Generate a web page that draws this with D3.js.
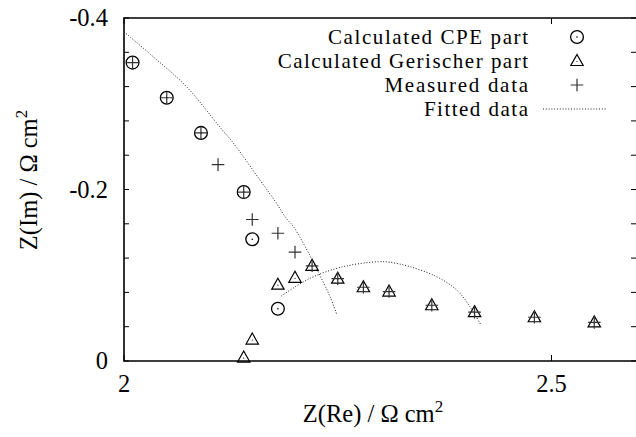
<!DOCTYPE html>
<html>
<head>
<meta charset="utf-8">
<script src="https://cdn.jsdelivr.net/npm/d3@7/dist/d3.min.js"></script>
<style>
  html, body { margin: 0; padding: 0; background: #fff; }
  svg { display: block; }
  text { font-family: "Liberation Serif", "Times New Roman", serif; fill: #000; }
</style>
</head>
<body>
<svg id="chart" width="636" height="437"></svg>
<script>
// Real part of impedance (Ohm cm^2)
const measuredRe = [2.01, 2.05, 2.09, 2.11, 2.14, 2.15, 2.18, 2.20, 2.22, 2.25, 2.28, 2.31, 2.36, 2.41, 2.48, 2.55];
// Imaginary part of measured impedance
const measuredIm = [-0.348, -0.307, -0.266, -0.229, -0.197, -0.165, -0.149, -0.127, -0.111, -0.096, -0.086, -0.081, -0.065, -0.057, -0.051, -0.045];

// CPE contribution
const cpeRe = [2.01, 2.05, 2.09, 2.14, 2.15, 2.18];
const cpeIm = [-0.348, -0.307, -0.266, -0.197, -0.142, -0.061];

// Gerischer contribution
const gerRe = [2.14, 2.15, 2.18, 2.20, 2.22, 2.25, 2.28, 2.31, 2.36, 2.41, 2.48, 2.55];
const gerIm = [-0.004, -0.025, -0.089, -0.097, -0.111, -0.096, -0.086, -0.081, -0.065, -0.057, -0.051, -0.045];

// Fitted curve, high-frequency arc
const fit1Re = [2.000, 2.034, 2.073, 2.112, 2.128, 2.159, 2.177, 2.190, 2.198, 2.218, 2.229, 2.241, 2.249];
const fit1Im = [-0.384, -0.355, -0.320, -0.273, -0.254, -0.211, -0.186, -0.166, -0.157, -0.122, -0.100, -0.075, -0.054];

// Fitted curve, low-frequency arc
const fit2Re = [2.184, 2.2175, 2.2565, 2.2974, 2.3111, 2.3345, 2.3657, 2.3891, 2.4047, 2.4175];
const fit2Im = [-0.0758, -0.0964, -0.1100, -0.1158, -0.1151, -0.1100, -0.0983, -0.0828, -0.0633, -0.0420];

const xTicks = [2, 2.5];
const xTickLabels = ["2", "2.5"];
const yTicks = [0, -0.2, -0.4];
const yTickLabels = ["0", "-0.2", "-0.4"];
const legendLabels = ["Calculated CPE part", "Calculated Gerischer part", "Measured data", "Fitted data"];

const svg = d3.select("#chart");
const pLeft = 124, pRight = 637, pTop = 18, pBottom = 361;
const fs = 24.5;       // tick labels and axis titles
const legendFs = 21;   // legend entries (letter-spaced to full width)

const x = d3.scaleLinear().domain([2, 2.6]).range([pLeft, pRight]);
const y = d3.scaleLinear().domain([0, -0.4]).range([pBottom, pTop]);

const zip = (a, b) => a.map((v, i) => [v, b[i]]);

// frame
const frame = svg.append("g").attr("stroke", "#000").attr("fill", "none");
frame.append("path")
  .attr("d", `M${pRight},${pTop}H${pLeft}V${pBottom}H${pRight}`)
  .attr("stroke-width", 1.6);

// y ticks, major and minor, on both sides
const yMinor = d3.range(0, -0.4001, -0.04);
yMinor.forEach(v => {
  frame.append("line").attr("x1", pLeft).attr("x2", pLeft + 5)
    .attr("y1", y(v)).attr("y2", y(v)).attr("stroke-width", 1);
  frame.append("line").attr("x1", pRight - 6).attr("x2", pRight - 1)
    .attr("y1", y(v)).attr("y2", y(v)).attr("stroke-width", 1);
});
xTicks.forEach(v => {
  frame.append("line").attr("x1", x(v)).attr("x2", x(v))
    .attr("y1", pBottom).attr("y2", pBottom - 6).attr("stroke-width", 1);
  frame.append("line").attr("x1", x(v)).attr("x2", x(v))
    .attr("y1", pTop).attr("y2", pTop + 6).attr("stroke-width", 1);
});

// tick labels
yTicks.forEach((v, i) => {
  svg.append("text").attr("x", 108).attr("y", y(v) + 8)
    .attr("text-anchor", "end").attr("font-size", fs).text(yTickLabels[i]);
});
xTicks.forEach((v, i) => {
  svg.append("text").attr("x", x(v)).attr("y", 392)
    .attr("text-anchor", "middle").attr("font-size", fs).text(xTickLabels[i]);
});

// axis titles
const xt = svg.append("text").attr("x", 373).attr("y", 422)
  .attr("text-anchor", "middle").attr("font-size", fs);
xt.append("tspan").text("Z(Re) / Ω cm");
xt.append("tspan").attr("dy", -10).attr("font-size", 17).text("2");

const yt = svg.append("text")
  .attr("transform", "translate(37,180) rotate(-90)")
  .attr("text-anchor", "middle").attr("font-size", fs);
yt.append("tspan").text("Z(Im) / Ω cm");
yt.append("tspan").attr("dy", -10).attr("font-size", 17).text("2");

// plot area clip
svg.append("clipPath").attr("id", "clip")
  .append("rect").attr("x", pLeft).attr("y", pTop)
  .attr("width", pRight - pLeft).attr("height", pBottom - pTop);

const plot = svg.append("g").attr("clip-path", "url(#clip)");

// fitted curves (dotted)
const line = d3.line().x(d => x(d[0])).y(d => y(d[1])).curve(d3.curveCatmullRom);
[zip(fit1Re, fit1Im), zip(fit2Re, fit2Im)].forEach(pts => {
  plot.append("path").datum(pts).attr("d", line)
    .attr("fill", "none").attr("stroke", "#222")
    .attr("stroke-width", 1).attr("stroke-dasharray", "1,1.8");
});

// marker drawers
function drawCircle(g, cx, cy) {
  g.append("circle").attr("cx", cx).attr("cy", cy).attr("r", 6.4)
    .attr("fill", "none").attr("stroke", "#000").attr("stroke-width", 1.3);
  g.append("circle").attr("cx", cx).attr("cy", cy).attr("r", 0.8).attr("fill", "#000");
}
function drawTriangle(g, cx, cy) {
  g.append("path")
    .attr("d", `M${cx},${cy - 6.5}L${cx + 6.2},${cy + 4.5}L${cx - 6.2},${cy + 4.5}Z`)
    .attr("fill", "none").attr("stroke", "#000").attr("stroke-width", 1.2);
  g.append("circle").attr("cx", cx).attr("cy", cy + 0.5).attr("r", 0.6).attr("fill", "#000");
}
function drawPlus(g, cx, cy) {
  g.append("path")
    .attr("d", `M${cx - 6.3},${cy}H${cx + 6.3}M${cx},${cy - 6.3}V${cy + 6.3}`)
    .attr("fill", "none").attr("stroke", "#333").attr("stroke-width", 1.2);
}

const marks = svg.append("g");
zip(cpeRe, cpeIm).forEach(d => drawCircle(marks, x(d[0]), y(d[1])));
zip(gerRe, gerIm).forEach(d => drawTriangle(marks, x(d[0]), y(d[1])));
zip(measuredRe, measuredIm).forEach(d => drawPlus(marks, x(d[0]), y(d[1])));

// legend: entries are set at a compact size, then spread to the width
// they would take at the main text size
const lg = svg.append("g");
const legendY = [37, 61, 85, 109];
legendLabels.forEach((t, i) => {
  const el = lg.append("text").attr("x", 528).attr("y", legendY[i] + 7)
    .attr("text-anchor", "end").attr("font-size", fs).text(t);
  const fullWidth = el.node().getComputedTextLength();
  el.attr("font-size", legendFs)
    .attr("textLength", fullWidth).attr("lengthAdjust", "spacing");
});
drawCircle(lg, 577, legendY[0]);
drawTriangle(lg, 577, legendY[1]);
drawPlus(lg, 577, legendY[2]);
lg.append("line").attr("x1", 543).attr("x2", 607)
  .attr("y1", legendY[3]).attr("y2", legendY[3])
  .attr("stroke", "#222").attr("stroke-width", 1).attr("stroke-dasharray", "1,1.8");
</script>
</body>
</html>
